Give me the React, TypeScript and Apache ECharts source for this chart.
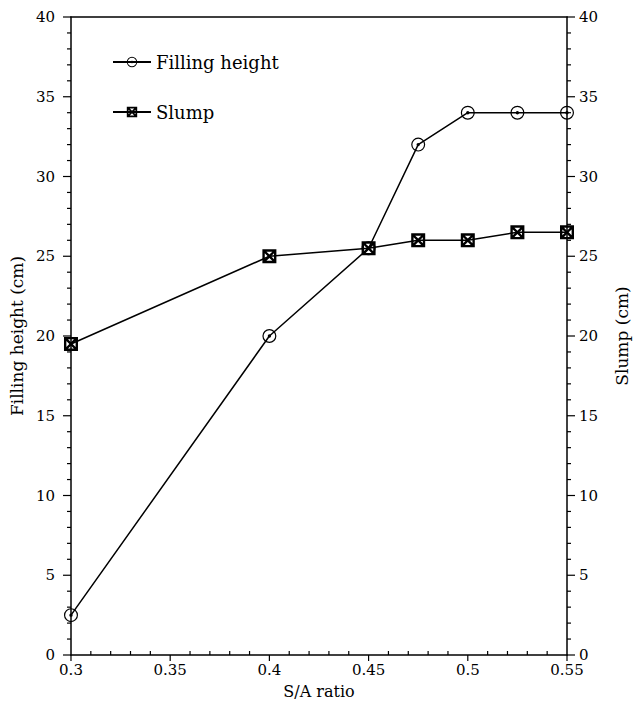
import React, { useEffect, useRef } from "react";
import * as echarts from "echarts";

const saRatio = [0.3, 0.4, 0.45, 0.475, 0.5, 0.525, 0.55];
const fillingHeight = [2.5, 20, 25.5, 32, 34, 34, 34];
const slump = [19.5, 25, 25.5, 26, 26, 26.5, 26.5];
const seriesNames = ["Filling height", "Slump"];
const xTicks = [0.3, 0.35, 0.4, 0.45, 0.5, 0.55];
const yTicks = [0, 5, 10, 15, 20, 25, 30, 35, 40];
const minorDivisions = 5;

const circleDot =
  "path://M0,10 A10,10 0 1,0 20,10 A10,10 0 1,0 0,10 Z M1.7,10 A8.3,8.3 0 1,1 18.3,10 A8.3,8.3 0 1,1 1.7,10 Z M7.6,10 A2.4,2.4 0 1,0 12.4,10 A2.4,2.4 0 1,0 7.6,10 Z";
const boxCross =
  "path://M0,0 L20,0 L20,20 L0,20 Z M5.8,3.4 L10,7.6 L14.2,3.4 Z M16.6,5.8 L12.4,10 L16.6,14.2 Z M14.2,16.6 L10,12.4 L5.8,16.6 Z M3.4,14.2 L7.6,10 L3.4,5.8 Z";

const FONT = "DejaVu Serif";

const ls = (w = 1.5) => ({ color: "#000", width: w });

// tick marks: kind 0 = x major, 1 = x minor, 2 = y major, 3 = y minor
function buildTicks() {
  const out: number[][] = [];
  const add = (ticks: number[], major: number, minor: number) => {
    ticks.forEach((t, i) => {
      out.push([major, t]);
      if (i < ticks.length - 1) {
        const step = (ticks[i + 1] - t) / minorDivisions;
        for (let k = 1; k < minorDivisions; k++) out.push([minor, t + step * k]);
      }
    });
  };
  add(xTicks, 0, 1);
  add(yTicks, 2, 3);
  return out;
}

export default function App() {
  const ref = useRef<HTMLDivElement>(null);
  useEffect(() => {
    if (!ref.current) return;
    const chart = echarts.init(ref.current, undefined, { renderer: "svg" });
    const fmt = (v: number) => String(+v.toFixed(2));
    const label = () => ({ fontFamily: FONT, fontSize: 15, color: "#000" });
    const xMin = xTicks[0];
    const xMax = xTicks[xTicks.length - 1];
    const yMin = yTicks[0];
    const yMax = yTicks[yTicks.length - 1];
    const yAxisBase = (position: "left" | "right", name: string, nameGap: number, margin: number) => ({
      type: "value",
      position,
      min: yMin,
      max: yMax,
      interval: 5,
      name,
      nameLocation: "middle",
      nameGap,
      nameRotate: 90,
      nameTextStyle: { fontFamily: FONT, fontSize: 17, color: "#000" },
      axisLine: { show: true, lineStyle: ls() },
      axisTick: { show: false },
      splitLine: { show: false },
      axisLabel: { ...label(), margin },
    });
    const tickStyle = { stroke: "#000", lineWidth: 1.2 };
    chart.setOption({
      animation: false,
      backgroundColor: "#fff",
      textStyle: { fontFamily: FONT, color: "#000" },
      grid: { left: 70, right: 73, top: 17, bottom: 59 },
      legend: {
        orient: "vertical",
        left: 107,
        top: 48,
        itemGap: 32,
        itemWidth: 38,
        itemHeight: 13,
        data: seriesNames,
        textStyle: { fontFamily: FONT, fontSize: 18, color: "#000" },
      },
      xAxis: [
        {
          type: "value",
          position: "bottom",
          min: xMin,
          max: xMax,
          interval: 0.05,
          name: "S/A ratio",
          nameLocation: "middle",
          nameGap: 28,
          nameTextStyle: { fontFamily: FONT, fontSize: 16, color: "#000" },
          axisLine: { show: true, onZero: false, lineStyle: ls() },
          axisTick: { show: false },
          splitLine: { show: false },
          axisLabel: { ...label(), formatter: fmt, margin: 7 },
        },
        {
          type: "value",
          position: "top",
          min: xMin,
          max: xMax,
          interval: 0.05,
          axisLine: { show: true, onZero: false, lineStyle: ls() },
          axisTick: { show: false },
          splitLine: { show: false },
          axisLabel: { show: false },
        },
      ],
      yAxis: [
        yAxisBase("left", "Filling height (cm)", 33, 16),
        yAxisBase("right", "Slump (cm)", 46, 12),
      ],
      series: [
        {
          type: "custom",
          xAxisIndex: 0,
          yAxisIndex: 0,
          silent: true,
          clip: false,
          z: 1,
          data: buildTicks(),
          renderItem: (_params: any, api: any) => {
            const kind = api.value(0);
            const v = api.value(1);
            if (kind === 0 || kind === 1) {
              const p = api.coord([v, yMin]);
              const len = kind === 0 ? 6 : -4;
              return {
                type: "line",
                shape: { x1: p[0], y1: p[1], x2: p[0], y2: p[1] + len },
                style: tickStyle,
              };
            }
            const pl = api.coord([xMin, v]);
            const pr = api.coord([xMax, v]);
            const len = kind === 2 ? 8 : 4;
            return {
              type: "group",
              children: [
                { type: "line", shape: { x1: pl[0] - len, y1: pl[1], x2: pl[0], y2: pl[1] }, style: tickStyle },
                { type: "line", shape: { x1: pr[0], y1: pr[1], x2: pr[0] + len, y2: pr[1] }, style: tickStyle },
              ],
            };
          },
        },
        {
          name: seriesNames[0],
          type: "line",
          xAxisIndex: 0,
          yAxisIndex: 0,
          data: saRatio.map((x, i) => [x, fillingHeight[i]]),
          symbol: circleDot,
          symbolSize: 14,
          symbolKeepAspect: true,
          itemStyle: { color: "#000", borderWidth: 0 },
          lineStyle: ls(1.5),
          z: 3,
        },
        {
          name: seriesNames[1],
          type: "line",
          xAxisIndex: 0,
          yAxisIndex: 1,
          data: saRatio.map((x, i) => [x, slump[i]]),
          symbol: boxCross,
          symbolSize: 14,
          symbolKeepAspect: true,
          itemStyle: { color: "#000", borderWidth: 0 },
          lineStyle: ls(1.5),
          z: 2,
        },
      ],
    });
    return () => chart.dispose();
  }, []);
  return (
    <div
      ref={ref}
      style={{ position: "fixed", left: 0, top: 0, width: 640, height: 714, background: "#fff" }}
    />
  );
}
